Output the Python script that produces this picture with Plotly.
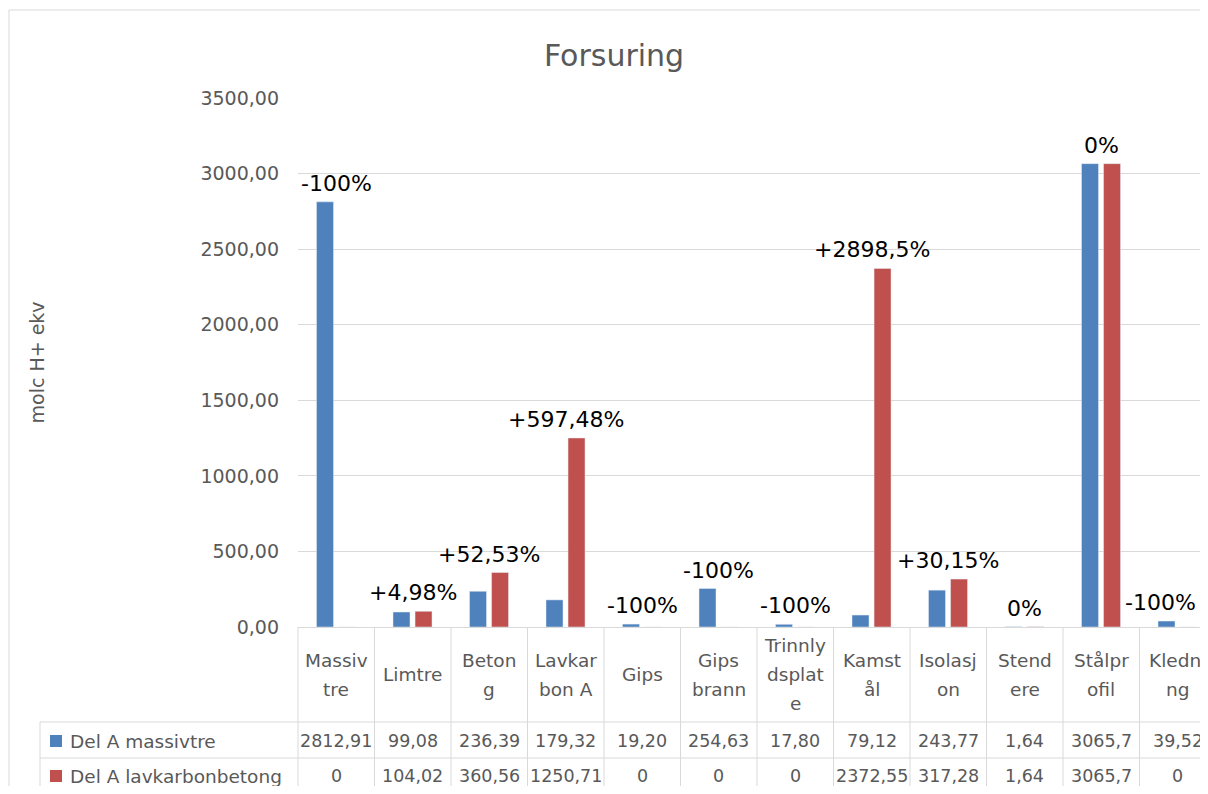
import plotly.graph_objects as go

categories = ["Massivtre", "Limtre", "Betong", "Lavkarbon A", "Gips", "Gips brann",
              "Trinnlydsplate", "Kamstål", "Isolasjon", "Stendere", "Stålprofil", "Kledning"]
# wrapped the way the table cells show them
category_labels = ["Massiv<br>tre", "Limtre", "Beton<br>g", "Lavkar<br>bon A", "Gips", "Gips<br>brann",
                   "Trinnly<br>dsplat<br>e", "Kamst<br>ål", "Isolasj<br>on", "Stend<br>ere",
                   "Stålpr<br>ofil", "Kledni<br>ng"]
massivtre_text = ["2812,91", "99,08", "236,39", "179,32", "19,20", "254,63",
                  "17,80", "79,12", "243,77", "1,64", "3065,7", "39,52"]
lavkarbon_text = ["0", "104,02", "360,56", "1250,71", "0", "0",
                  "0", "2372,55", "317,28", "1,64", "3065,7", "0"]
change_labels = ["-100%", "+4,98%", "+52,53%", "+597,48%", "-100%", "-100%",
                 "-100%", "+2898,5%", "+30,15%", "0%", "0%", "-100%"]
series_names = ["Del A massivtre", "Del A lavkarbonbetong"]

massivtre = [float(s.replace(",", ".")) for s in massivtre_text]
lavkarbon = [float(s.replace(",", ".")) for s in lavkarbon_text]

BLUE = "#4F81BD"
RED = "#C0504D"
GRID = "#d9d9d9"
GREY_TXT = "#595959"
FONT = "DejaVu Sans, sans-serif"

W, H = 1192, 778
ML, MR, MT, MB = 290, 0, 90, 159
PW = W - ML - MR
PH = H - MT - MB
X0, X1 = -0.5, -0.5 + PW / 76.5


def px(xv):
    # category coordinate -> paper x
    return (xv - X0) / (X1 - X0)


def fx(fig_x):
    # figure pixel x -> paper x
    return (fig_x - ML) / PW


def below(off):
    # pixels below the zero line -> paper y
    return -off / PH


bottom = below(MB)
idx = list(range(len(categories)))
fig = go.Figure()
fig.add_trace(go.Bar(x=idx, y=massivtre, name=series_names[0], marker_color=BLUE,
                     width=0.222, offset=-0.258))
fig.add_trace(go.Bar(x=idx, y=lavkarbon, name=series_names[1], marker_color=RED,
                     width=0.222, offset=0.03))

annotations = []
for i, lab in enumerate(change_labels):
    annotations.append(dict(x=i, y=max(massivtre[i], lavkarbon[i]), text=lab, showarrow=False,
                            xref="x", yref="y", xanchor="center", yanchor="bottom", yshift=4,
                            xshift=-17 if i == len(categories) - 1 else 0,
                            font=dict(family=FONT, size=22, color="black")))

# data table
shapes = []
line = dict(color=GRID, width=1)
for k in range(len(categories)):
    shapes.append(dict(type="line", xref="paper", yref="paper", x0=px(k - 0.5), x1=px(k - 0.5),
                       y0=0, y1=bottom, line=line))
for off in (95, 131):
    shapes.append(dict(type="line", xref="paper", yref="paper", x0=fx(32), x1=1,
                       y0=below(off), y1=below(off), line=line))
shapes.append(dict(type="line", xref="paper", yref="paper", x0=fx(32), x1=fx(32),
                   y0=below(95), y1=bottom, line=line))
# chart border
top = (PH + MT - 2) / PH
shapes.append(dict(type="line", xref="paper", yref="paper", x0=fx(1), x1=fx(1),
                   y0=top, y1=bottom, line=line))
shapes.append(dict(type="line", xref="paper", yref="paper", x0=fx(1), x1=1,
                   y0=top, y1=top, line=line))

for i, lab in enumerate(category_labels):
    parts = lab.split("<br>")
    n = len(parts)
    for j, p in enumerate(parts):
        off = 47.5 + (j - (n - 1) / 2) * 29
        annotations.append(dict(x=px(i), y=below(off), xref="paper", yref="paper", text=p,
                                showarrow=False, xanchor="center", yanchor="middle",
                                font=dict(family=FONT, size=18.5, color=GREY_TXT)))
    for row, vals in ((114, massivtre_text), (149, lavkarbon_text)):
        annotations.append(dict(x=px(i), y=below(row), xref="paper", yref="paper", text=vals[i],
                                showarrow=False, xanchor="center", yanchor="middle",
                                font=dict(family=FONT, size=17.5, color=GREY_TXT)))

for row, name, col in ((114, series_names[0], BLUE), (149, series_names[1], RED)):
    shapes.append(dict(type="rect", xref="paper", yref="paper", x0=fx(42), x1=fx(54),
                       y0=below(row - 6), y1=below(row + 6), fillcolor=col, line=dict(width=0)))
    annotations.append(dict(x=fx(60), y=below(row), xref="paper", yref="paper", text=name,
                            showarrow=False, xanchor="left", yanchor="middle",
                            font=dict(family=FONT, size=18.5, color=GREY_TXT)))

annotations.append(dict(x=fx(28), y=0.5, xref="paper", yref="paper", text="molc H+ ekv",
                        textangle=-90, showarrow=False, xanchor="center", yanchor="middle",
                        font=dict(family=FONT, size=19, color=GREY_TXT)))

fig.update_layout(
    width=W, height=H,
    margin=dict(l=ML, r=MR, t=MT, b=MB),
    paper_bgcolor="white", plot_bgcolor="white",
    separators=", ",
    barmode="overlay",
    showlegend=False,
    title=dict(text="Forsuring", x=606 / W, xanchor="center", y=1 - 47 / H, yanchor="middle",
               font=dict(family=FONT, size=30, color=GREY_TXT)),
    annotations=annotations,
    shapes=shapes,
)
fig.update_xaxes(range=[X0, X1], showticklabels=False, showgrid=False, zeroline=False,
                 showline=False)
fig.update_yaxes(range=[0, 3500], dtick=500, tickformat=".2f", gridcolor=GRID, zeroline=True,
                 zerolinecolor=GRID, zerolinewidth=1, showline=False, ticklabelstandoff=18,
                 tickfont=dict(family=FONT, size=19, color=GREY_TXT))

fig.write_html("out.html")
